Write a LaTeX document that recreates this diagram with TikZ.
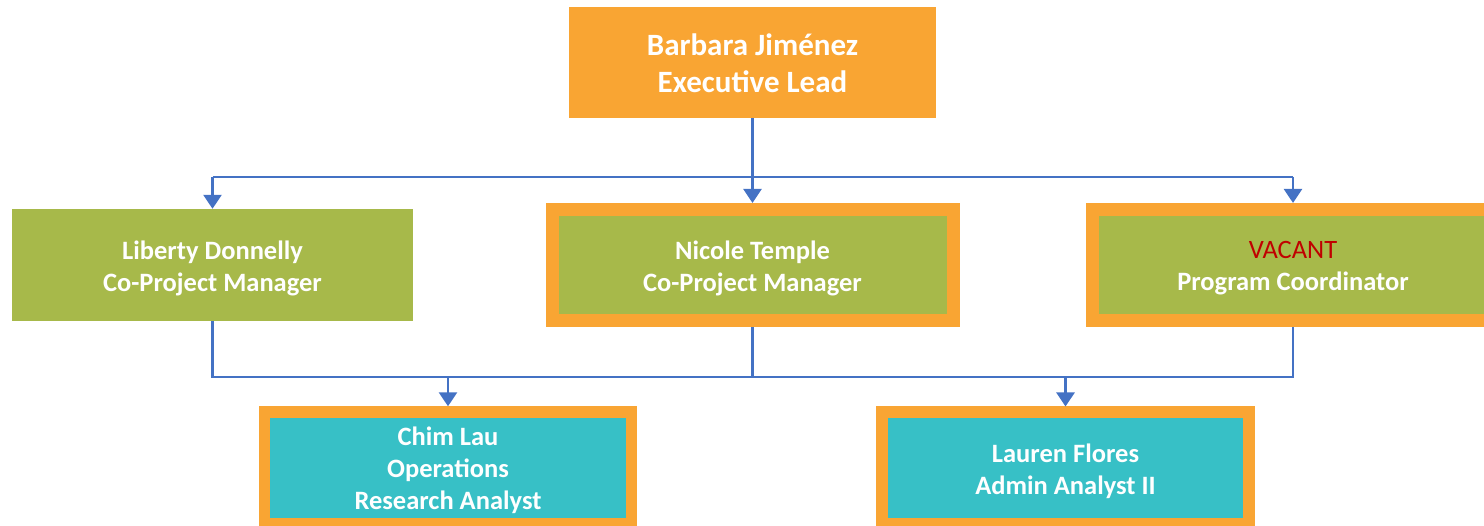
\documentclass[tikz,border=0pt]{standalone}
\usepackage{fontspec}
\setmainfont{Carlito}
\usetikzlibrary{arrows.meta}
\definecolor{borange}{HTML}{F9A533}
\definecolor{bgreen}{HTML}{A7B94A}
\definecolor{bteal}{HTML}{37C0C6}
\definecolor{bblue}{HTML}{4472C4}
\definecolor{vred}{HTML}{C00000}
\tikzset{
  box/.style={rectangle, inner sep=0pt},
  txt/.style={inner sep=0pt, align=center, text=white,
    font=\bfseries\fontsize{26.5}{32}\selectfont},
  toptxt/.style={txt, font=\bfseries\fontsize{31}{37}\selectfont},
  topbox/.style={box, fill=borange, minimum width=367pt, minimum height=111pt},
  greenbox/.style={box, fill=bgreen, minimum width=401pt, minimum height=112pt},
  framedgreen/.style={box, fill=bgreen, draw=borange, line width=13pt,
    minimum width=401pt, minimum height=111.5pt},
  framedteal/.style={box, fill=bteal, draw=borange, line width=11.5pt,
    minimum width=367pt, minimum height=111.5pt},
  conn/.style={draw=bblue, line width=2.6pt},
  arr/.style={conn, -{Triangle[width=18pt,length=14pt]}}
}
\begin{document}
\begin{tikzpicture}[x=1pt,y=-1pt]
\useasboundingbox (0,0) rectangle (1484,526);
\node[topbox] (top) at (752.5,62.5) {};
\node[greenbox] (lib) at (212.5,265) {};
\node[framedgreen] (nic) at (752.5,265.2) {};
\node[framedgreen] (vac) at (1293,265.2) {};
\node[framedteal] (chim) at (448,467.8) {};
\node[framedteal] (lau) at (1065.5,468) {};
\node[toptxt] (topt) at ([yshift=-0.5pt]top.center) {Barbara Jiménez\\Executive Lead};
\node[txt] (libt) at ([yshift=-3pt]lib.center) {Liberty Donnelly\\Co-Project Manager};
\node[txt] (nict) at ([yshift=-3pt]nic.center) {Nicole Temple\\Co-Project Manager};
\node[txt] (vact) at ([yshift=-3pt]vac.center) {{\mdseries\color{vred}VACANT}\\Program Coordinator};
\node[txt] (chimt) at ([yshift=-2.5pt]chim.center) {Chim Lau\\Operations\\Research Analyst};
\node[txt] (laut) at ([yshift=-3pt]lau.center) {Lauren Flores\\Admin Analyst II};
\coordinate (j1) at (752.5,177);
\coordinate (j2) at (752.5,377);
\draw[conn] (top.south) -- (j1);
\draw[conn] (lib.north |- j1) -- (vac.north |- j1);
\draw[arr] (lib.north |- j1) -- (lib.north);
\draw[arr] (j1) -- (nic.north);
\draw[arr] (vac.north |- j1) -- (vac.north);
\draw[conn] (lib.south) -- (lib.south |- j2) -- (vac.south |- j2) -- (vac.south);
\draw[conn] (nic.south) -- (j2);
\draw[arr] (chim.north |- j2) -- (chim.north);
\draw[arr] (lau.north |- j2) -- (lau.north);
\end{tikzpicture}
\end{document}
